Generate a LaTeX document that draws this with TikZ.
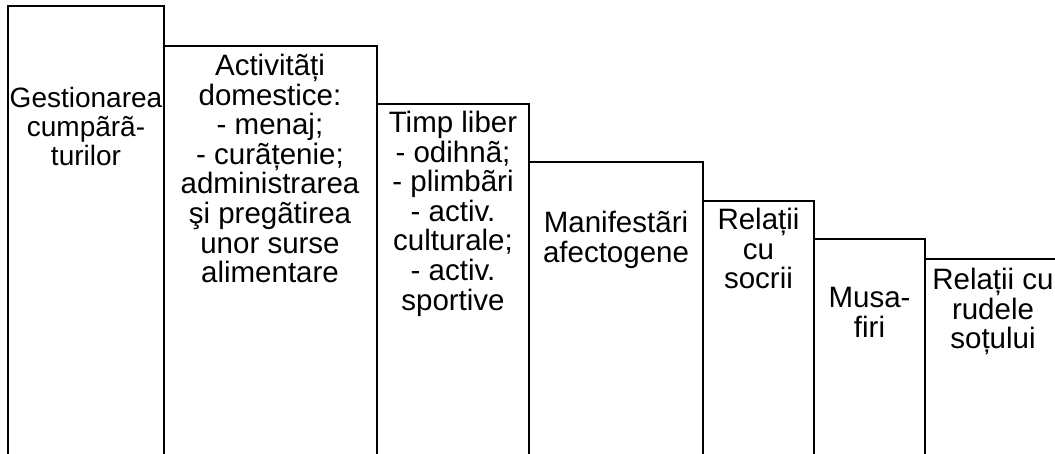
\documentclass[tikz,border=0pt]{standalone}
\usepackage{fontspec}
\setmainfont{Liberation Sans}
\begin{document}
\begin{tikzpicture}[x=1pt,y=-1pt,
  bar/.style={draw=black,line width=2pt},
  lbl/.style={anchor=north,align=center,inner sep=0pt,font=\fontsize{29.5}{29.6}\selectfont},
  lblsmall/.style={lbl,font=\fontsize{28}{28.8}\selectfont}]
\useasboundingbox (0,0) rectangle (1055,453);
\begin{scope}
\clip (0,0) rectangle (1055,453);
\draw[bar] (8,460) -- (8,6) -- (164,6) -- (164,460);
\draw[bar] (164,460) -- (164,46) -- (377,46) -- (377,460);
\draw[bar] (377,460) -- (377,104) -- (529,104) -- (529,460);
\draw[bar] (529,460) -- (529,162) -- (703,162) -- (703,460);
\draw[bar] (703,460) -- (703,201) -- (814,201) -- (814,460);
\draw[bar] (814,460) -- (814,239) -- (925,239) -- (925,460);
\draw[bar] (925,460) -- (925,259) -- (1070,259);
\node[lblsmall] (t1) at (86,87) {Gestionarea\\cumpãrã-\\turilor};
\node[lbl] (t2) at (270,54) {Activitãți\\domestice:\\- menaj;\\- curãțenie;\\administrarea\\şi pregãtirea\\unor surse\\alimentare};
\node[lbl] (t3) at (453,111) {Timp liber\\- odihnã;\\- plimbãri\\- activ.\\culturale;\\- activ.\\sportive};
\node[lbl] (t4) at (616,211) {Manifestãri\\afectogene};
\node[lbl] (t5) at (758.5,208) {Relații\\cu\\socrii};
\node[lbl] (t6) at (869.5,287) {Musa-\\firi};
\node[lbl] (t7) at (993,268) {Relații cu\\rudele\\soțului};
\end{scope}
\end{tikzpicture}
\end{document}
